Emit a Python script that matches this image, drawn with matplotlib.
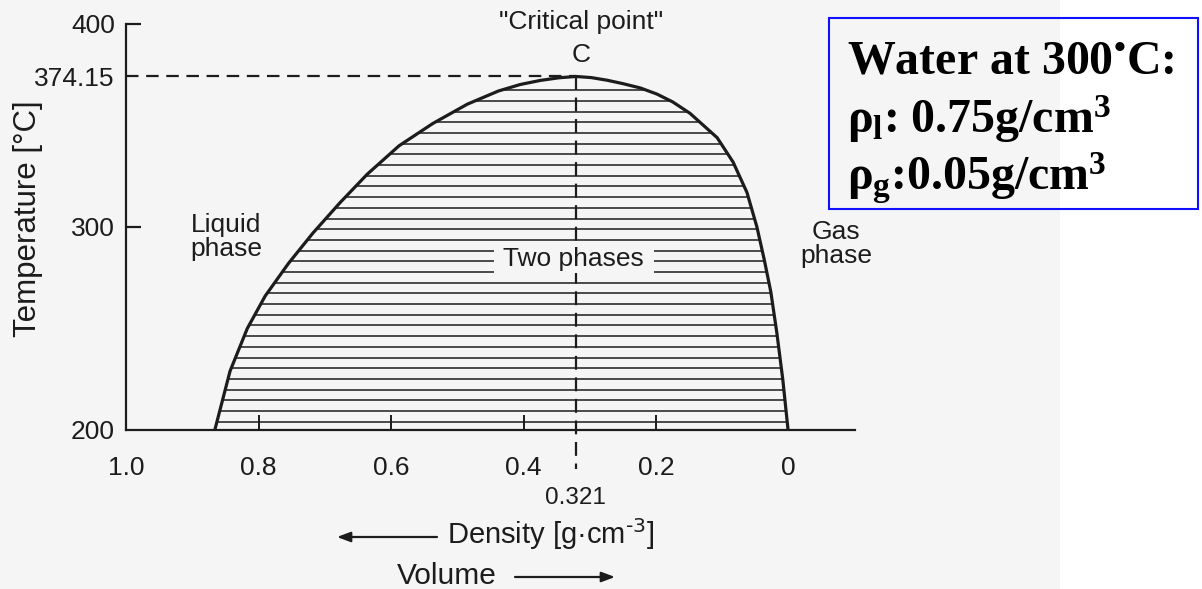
import matplotlib
matplotlib.use("Agg")
import matplotlib.pyplot as plt
from matplotlib.patches import Polygon, Rectangle
import numpy as np

plt.rcParams['font.family'] = ['Liberation Sans', 'DejaVu Sans']
plt.rcParams['mathtext.fontset'] = 'custom'
plt.rcParams['mathtext.rm'] = 'Liberation Serif:bold'
plt.rcParams['mathtext.it'] = 'Liberation Serif:bold'
plt.rcParams['mathtext.bf'] = 'Liberation Serif:bold'
plt.rcParams['lines.scale_dashes'] = False

# ---------------- data ----------------
# liquid branch of the coexistence curve (temperature in degC, density in g/cm3)
T_liquid = [200, 229, 250, 266, 282, 297, 312, 326, 340, 351, 360.5, 367, 370.2,
            372.2, 373.5, 374.15]
rho_liquid = [0.866, 0.843, 0.817, 0.790, 0.755, 0.718, 0.677, 0.636, 0.588, 0.537,
              0.485, 0.438, 0.405, 0.375, 0.347, 0.321]
# gas branch
T_gas = [200, 225, 248, 268, 284, 300, 317, 332, 344, 356, 361.6, 365.5, 368.5,
         370.6, 372.3, 373.6, 374.15]
rho_gas = [0.001, 0.009, 0.018, 0.027, 0.037, 0.048, 0.063, 0.084, 0.108, 0.149,
           0.175, 0.199, 0.224, 0.250, 0.274, 0.298, 0.321]
T_crit = 374.15
rho_crit = 0.321

ytick_major = [300, 400]
ytick_major_labels = ['300', '400']
ytick_extra = [200, 374.15]
ytick_extra_labels = ['200', '374.15']
xtick_major = [0.8, 0.6, 0.4, 0.2]
xtick_major_labels = ['0.8', '0.6', '0.4', '0.2']
xtick_extra = [1.0, 0.0]
xtick_extra_labels = ['1.0', '0']

# ---------------- figure ----------------
W, H = 1202, 589
PAGE = '#f5f5f5'
INK = '#1c1c1c'
fig = plt.figure(figsize=(W / 100, H / 100), dpi=100, facecolor=PAGE)
fig.patches.append(Rectangle((1060 / W, 0), 1 - 1060 / W, 1, transform=fig.transFigure,
                             facecolor='white', edgecolor='none', zorder=-10))


def fx(px):
    return px / W


def fy(py):
    return 1 - py / H


ax = fig.add_axes([fx(126), fy(430), 729 / W, 406 / H])
ax.set_facecolor('none')
ax.set_xlim(1.0, -0.1)
ax.set_ylim(200, 400)
for s in ['top', 'right']:
    ax.spines[s].set_visible(False)
for s in ['left', 'bottom']:
    ax.spines[s].set_linewidth(1.6)
    ax.spines[s].set_color(INK)

ax.set_yticks(ytick_major)
ax.set_yticklabels(ytick_major_labels)
ax.set_yticks(ytick_extra, minor=True)
ax.set_yticklabels(ytick_extra_labels, minor=True)
ax.set_xticks(xtick_major)
ax.set_xticklabels(xtick_major_labels)
ax.set_xticks(xtick_extra, minor=True)
ax.set_xticklabels(xtick_extra_labels, minor=True)
tfs = 19
ax.tick_params(axis='y', which='major', direction='in', length=11, width=1.6,
               pad=8, labelsize=tfs, color=INK, labelcolor=INK)
ax.tick_params(axis='y', which='minor', direction='in', length=0, pad=8,
               labelsize=tfs, labelcolor=INK)
ax.tick_params(axis='x', which='major', direction='in', length=11, width=1.4,
               pad=19, labelsize=19, color=INK, labelcolor=INK)
ax.tick_params(axis='x', which='minor', direction='in', length=0, pad=19,
               labelsize=19, labelcolor=INK)

# dome outline
dome_x = list(rho_liquid) + list(rho_gas[::-1])
dome_y = list(T_liquid) + list(T_gas[::-1])
dome = Polygon(np.column_stack([dome_x, dome_y]), closed=True,
               facecolor='none', edgecolor='none')
ax.add_patch(dome)

# horizontal hatching inside the two-phase region
hatch_T = np.linspace(204.1, 367.4, 32)
hl = ax.hlines(hatch_T, 1.0, -0.1, colors=INK, linewidth=1.1, zorder=2)
hl.set_clip_path(dome)

ax.plot(dome_x, dome_y, color=INK, lw=2.3, solid_joinstyle='round',
        solid_capstyle='round', zorder=4)

# dashed guides to the critical point
ax.plot([1.0, rho_crit], [T_crit, T_crit], color=INK, lw=1.6, dashes=[9, 5.5], zorder=3)
ax.plot([rho_crit, rho_crit], [T_crit, 181], color=INK, lw=1.6, dashes=[10, 5.5],
        zorder=3, clip_on=False)

# ---------------- texts ----------------
fs = 19
fig.text(fx(581), fy(22), '"Critical point"', ha='center', va='center', fontsize=fs, color=INK)
fig.text(fx(581), fy(55), 'C', ha='center', va='center', fontsize=fs, color=INK)
fig.text(fx(226), fy(237), 'Liquid\nphase', ha='center', va='center', fontsize=fs,
         color=INK, linespacing=1.0)
fig.text(fx(836), fy(244), 'Gas\nphase', ha='center', va='center', fontsize=fs,
         color=INK, linespacing=1.0)
fig.text(fx(574), fy(259), ' Two phases ', ha='center', va='center',
         fontsize=fs, color=INK, zorder=6,
         bbox=dict(boxstyle='square,pad=0.08', facecolor=PAGE, edgecolor='none'))
fig.text(fx(575), fy(498), '0.321', ha='center', va='center', fontsize=17.5, color=INK)

fig.text(fx(447), fy(544), 'Density [g·cm$^{‐3}$]', ha='left', va='baseline',
         fontsize=21, color=INK, math_fontfamily='dejavusans')
fig.text(fx(397), fy(584), 'Volume', ha='left', va='baseline', fontsize=21.5, color=INK)
fig.text(fx(28), fy(219), 'Temperature [°C]', rotation=90, ha='center', va='center',
         fontsize=22.5, color=INK)

arrow = dict(arrowstyle='-|>,head_length=0.8,head_width=0.3', color=INK, lw=1.6,
             shrinkA=0, shrinkB=0)
ax.annotate('', xy=(fx(337), fy(537)), xytext=(fx(437), fy(537)),
            xycoords='figure fraction', textcoords='figure fraction', arrowprops=arrow)
ax.annotate('', xy=(fx(615), fy(577)), xytext=(fx(515), fy(577)),
            xycoords='figure fraction', textcoords='figure fraction', arrowprops=arrow)

# ---------------- boxed note ----------------
fig.patches.append(Rectangle((fx(829), fy(209)), (1198 - 829) / W, (209 - 18) / H,
                             transform=fig.transFigure, facecolor='none',
                             edgecolor='#1010ff', lw=1.5, zorder=5))
bfs = 34.5
fig.text(fx(847), fy(74), 'Water at 300$^{•}$C:', ha='left', va='baseline', fontsize=bfs,
         family='Liberation Serif', weight='bold', color='black', math_fontfamily='custom')
fig.text(fx(847), fy(133), r'$\rho_{l}$: 0.75g/cm$^{3}$', ha='left', va='baseline',
         fontsize=bfs, family='Liberation Serif', weight='bold', color='black',
         math_fontfamily='custom')
fig.text(fx(847), fy(190), r'$\rho_{g}$:0.05g/cm$^{3}$', ha='left', va='baseline',
         fontsize=bfs, family='Liberation Serif', weight='bold', color='black',
         math_fontfamily='custom')

fig.savefig('out.png', dpi=100, facecolor=PAGE)
